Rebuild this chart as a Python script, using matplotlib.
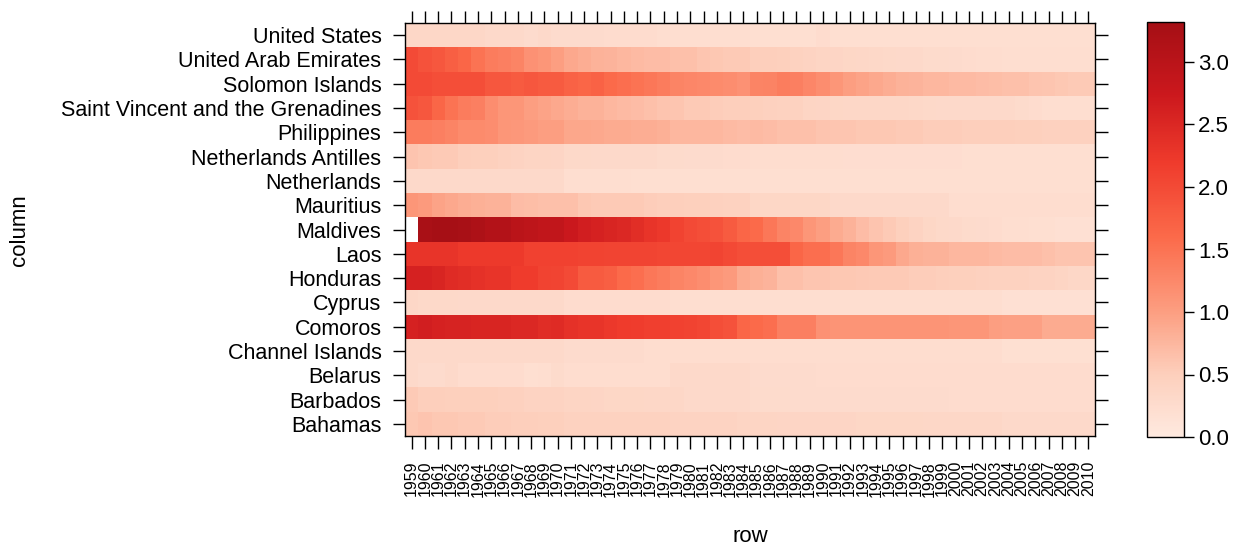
import numpy as np
import matplotlib
matplotlib.use("Agg")
import matplotlib.pyplot as plt
from matplotlib.colors import LinearSegmentedColormap

plt.rcParams['font.family'] = ['Liberation Sans', 'DejaVu Sans']

years = list(range(1959, 2011))

# countries, bottom to top as drawn
countries = ["Bahamas", "Barbados", "Belarus", "Channel Islands", "Comoros",
             "Cyprus", "Honduras", "Laos", "Maldives", "Mauritius",
             "Netherlands", "Netherlands Antilles", "Philippines",
             "Saint Vincent and the Grenadines", "Solomon Islands",
             "United Arab Emirates", "United States"]

# one row per country, 1959 .. 2010 (first value, then decades, then 2010)
bahamas = [0.58,
           0.62, 0.58, 0.58, 0.55, 0.55, 0.52, 0.52, 0.50, 0.50, 0.48,
           0.48, 0.45, 0.45, 0.45, 0.45, 0.45, 0.45, 0.45, 0.45, 0.42,
           0.42, 0.42, 0.42, 0.42, 0.40, 0.40, 0.40, 0.38, 0.38, 0.38,
           0.38, 0.38, 0.38, 0.36, 0.36, 0.36, 0.36, 0.36, 0.34, 0.34,
           0.34, 0.34, 0.34, 0.34, 0.30, 0.30, 0.30, 0.30, 0.30, 0.30,
           0.30]
barbados = [0.55,
            0.50, 0.50, 0.48, 0.48, 0.48, 0.48, 0.46, 0.46, 0.42, 0.42,
            0.42, 0.40, 0.40, 0.38, 0.36, 0.36, 0.36, 0.35, 0.35, 0.35,
            0.30, 0.30, 0.30, 0.30, 0.30, 0.28, 0.28, 0.28, 0.26, 0.26,
            0.26, 0.26, 0.26, 0.26, 0.26, 0.26, 0.26, 0.26, 0.26, 0.26,
            0.25, 0.25, 0.25, 0.25, 0.25, 0.25, 0.25, 0.25, 0.25, 0.25,
            0.25]
belarus = [0.30,
           0.26, 0.26, 0.30, 0.25, 0.25, 0.25, 0.25, 0.25, 0.20, 0.22,
           0.28, 0.24, 0.24, 0.24, 0.24, 0.24, 0.24, 0.24, 0.24, 0.30,
           0.30, 0.30, 0.30, 0.30, 0.30, 0.26, 0.26, 0.26, 0.26, 0.26,
           0.25, 0.25, 0.25, 0.25, 0.25, 0.25, 0.25, 0.25, 0.25, 0.25,
           0.25, 0.25, 0.25, 0.25, 0.25, 0.25, 0.25, 0.25, 0.25, 0.25,
           0.25]
channel_islands = [0.30,
                   0.30, 0.30, 0.30, 0.30, 0.30, 0.30, 0.30, 0.30, 0.30, 0.30,
                   0.30, 0.26, 0.26, 0.26, 0.26, 0.26, 0.26, 0.24, 0.24, 0.24,
                   0.24, 0.24, 0.24, 0.24, 0.24, 0.24, 0.24, 0.24, 0.24, 0.24,
                   0.24, 0.24, 0.24, 0.24, 0.24, 0.24, 0.24, 0.24, 0.24, 0.24,
                   0.24, 0.24, 0.24, 0.24, 0.19, 0.19, 0.19, 0.19, 0.19, 0.19,
                   0.19]
comoros = [2.60,
           2.65, 2.60, 2.58, 2.58, 2.55, 2.55, 2.55, 2.50, 2.50, 2.42,
           2.45, 2.35, 2.30, 2.30, 2.25, 2.20, 2.18, 2.15, 2.15, 2.12,
           2.10, 2.05, 1.95, 1.90, 1.65, 1.60, 1.55, 1.35, 1.35, 1.35,
           1.15, 1.12, 1.12, 1.12, 1.12, 1.12, 1.12, 1.12, 1.12, 1.12,
           1.10, 1.10, 1.10, 1.00, 0.98, 0.98, 0.98, 0.88, 0.88, 0.88,
           0.88]
cyprus = [0.35,
          0.32, 0.32, 0.32, 0.30, 0.30, 0.30, 0.30, 0.30, 0.30, 0.30,
          0.30, 0.25, 0.25, 0.25, 0.25, 0.25, 0.25, 0.25, 0.25, 0.22,
          0.22, 0.22, 0.22, 0.22, 0.22, 0.22, 0.22, 0.22, 0.22, 0.22,
          0.22, 0.22, 0.22, 0.22, 0.22, 0.22, 0.22, 0.22, 0.22, 0.22,
          0.22, 0.22, 0.22, 0.22, 0.18, 0.18, 0.18, 0.18, 0.18, 0.18,
          0.18]
honduras = [2.60,
            2.60, 2.55, 2.45, 2.40, 2.35, 2.30, 2.30, 2.20, 2.20, 2.10,
            2.08, 2.00, 1.80, 1.80, 1.75, 1.60, 1.55, 1.45, 1.40, 1.30,
            1.25, 1.20, 1.10, 1.05, 0.88, 0.82, 0.78, 0.66, 0.66, 0.60,
            0.60, 0.58, 0.58, 0.56, 0.55, 0.55, 0.55, 0.52, 0.52, 0.50,
            0.48, 0.48, 0.46, 0.45, 0.45, 0.45, 0.42, 0.42, 0.40, 0.35,
            0.35]
laos = [2.30,
        2.30, 2.30, 2.30, 2.22, 2.22, 2.22, 2.22, 2.22, 2.12, 2.12,
        2.12, 2.12, 2.10, 2.10, 2.08, 2.08, 2.08, 2.08, 2.05, 2.05,
        2.05, 2.05, 2.08, 2.02, 1.95, 1.95, 1.95, 1.95, 1.65, 1.55,
        1.55, 1.45, 1.30, 1.25, 1.10, 1.05, 0.90, 0.82, 0.80, 0.80,
        0.75, 0.75, 0.75, 0.72, 0.70, 0.70, 0.70, 0.65, 0.62, 0.62,
        0.62]
maldives = [np.nan,
            3.25, 3.30, 3.30, 3.28, 3.20, 3.10, 3.10, 3.00, 2.95, 2.90,
            2.90, 2.75, 2.65, 2.60, 2.55, 2.50, 2.40, 2.30, 2.25, 2.10,
            2.00, 1.95, 1.90, 1.80, 1.65, 1.60, 1.45, 1.30, 1.25, 1.10,
            1.00, 0.88, 0.80, 0.70, 0.62, 0.55, 0.48, 0.42, 0.36, 0.32,
            0.30, 0.28, 0.26, 0.25, 0.22, 0.22, 0.20, 0.20, 0.18, 0.18,
            0.18]
mauritius = [1.10,
             1.05, 0.95, 0.90, 0.85, 0.82, 0.80, 0.80, 0.70, 0.68, 0.65,
             0.65, 0.65, 0.58, 0.55, 0.55, 0.55, 0.55, 0.52, 0.50, 0.50,
             0.48, 0.48, 0.46, 0.45, 0.45, 0.36, 0.36, 0.36, 0.36, 0.36,
             0.36, 0.30, 0.30, 0.30, 0.30, 0.30, 0.30, 0.30, 0.30, 0.30,
             0.24, 0.24, 0.24, 0.24, 0.24, 0.24, 0.24, 0.24, 0.24, 0.24,
             0.24]
netherlands = [0.30,
               0.30, 0.30, 0.30, 0.30, 0.30, 0.30, 0.30, 0.30, 0.30, 0.30,
               0.30, 0.22, 0.22, 0.22, 0.22, 0.22, 0.20, 0.20, 0.20, 0.20,
               0.20, 0.20, 0.20, 0.20, 0.20, 0.20, 0.20, 0.20, 0.20, 0.20,
               0.20, 0.20, 0.20, 0.20, 0.20, 0.20, 0.20, 0.20, 0.20, 0.20,
               0.20, 0.20, 0.20, 0.20, 0.20, 0.20, 0.20, 0.20, 0.20, 0.20,
               0.20]
netherlands_antilles = [0.62,
                        0.58, 0.55, 0.55, 0.50, 0.48, 0.48, 0.45, 0.42, 0.40, 0.40,
                        0.38, 0.32, 0.32, 0.30, 0.30, 0.30, 0.30, 0.30, 0.28, 0.28,
                        0.26, 0.26, 0.26, 0.25, 0.25, 0.24, 0.24, 0.24, 0.24, 0.24,
                        0.24, 0.24, 0.23, 0.23, 0.23, 0.23, 0.23, 0.23, 0.23, 0.23,
                        0.23, 0.20, 0.20, 0.20, 0.20, 0.20, 0.20, 0.20, 0.20, 0.20,
                        0.20]
philippines = [1.40,
               1.40, 1.35, 1.30, 1.22, 1.22, 1.20, 1.10, 1.08, 1.05, 1.00,
               1.00, 0.92, 0.92, 0.90, 0.88, 0.88, 0.85, 0.85, 0.82, 0.75,
               0.75, 0.75, 0.75, 0.72, 0.70, 0.72, 0.70, 0.66, 0.66, 0.65,
               0.62, 0.60, 0.60, 0.58, 0.58, 0.58, 0.55, 0.55, 0.52, 0.52,
               0.52, 0.50, 0.50, 0.50, 0.50, 0.48, 0.48, 0.46, 0.46, 0.46,
               0.46]
saint_vincent = [1.90,
                 1.85, 1.65, 1.50, 1.40, 1.35, 1.20, 1.10, 1.10, 1.00, 0.95,
                 0.90, 0.85, 0.80, 0.80, 0.75, 0.72, 0.70, 0.65, 0.62, 0.60,
                 0.55, 0.55, 0.52, 0.50, 0.50, 0.48, 0.46, 0.45, 0.45, 0.40,
                 0.38, 0.36, 0.35, 0.35, 0.35, 0.34, 0.34, 0.33, 0.32, 0.30,
                 0.30, 0.30, 0.30, 0.30, 0.30, 0.28, 0.25, 0.22, 0.22, 0.22,
                 0.22]
solomon = [2.00,
           2.00, 1.95, 1.95, 1.95, 1.95, 1.85, 1.85, 1.80, 1.85, 1.80,
           1.80, 1.70, 1.65, 1.70, 1.60, 1.55, 1.50, 1.45, 1.40, 1.30,
           1.28, 1.25, 1.22, 1.20, 1.15, 1.30, 1.32, 1.38, 1.35, 1.28,
           1.20, 1.10, 1.00, 0.95, 0.90, 0.85, 0.80, 0.78, 0.75, 0.75,
           0.72, 0.72, 0.70, 0.68, 0.66, 0.65, 0.62, 0.60, 0.58, 0.55,
           0.55]
uae = [2.00,
       1.90, 1.85, 1.75, 1.65, 1.50, 1.40, 1.35, 1.30, 1.15, 1.10,
       1.00, 0.90, 0.85, 0.80, 0.78, 0.75, 0.72, 0.70, 0.70, 0.65,
       0.65, 0.60, 0.58, 0.55, 0.55, 0.50, 0.50, 0.48, 0.45, 0.42,
       0.40, 0.38, 0.36, 0.35, 0.33, 0.32, 0.30, 0.30, 0.28, 0.28,
       0.26, 0.25, 0.24, 0.24, 0.22, 0.22, 0.22, 0.22, 0.22, 0.22,
       0.22]
united_states = [0.35,
                 0.35, 0.35, 0.35, 0.35, 0.35, 0.30, 0.30, 0.30, 0.26, 0.30,
                 0.26, 0.26, 0.26, 0.26, 0.25, 0.25, 0.25, 0.25, 0.22, 0.22,
                 0.22, 0.22, 0.22, 0.22, 0.22, 0.20, 0.20, 0.20, 0.20, 0.20,
                 0.25, 0.20, 0.20, 0.20, 0.20, 0.20, 0.20, 0.20, 0.20, 0.20,
                 0.20, 0.20, 0.20, 0.20, 0.20, 0.20, 0.20, 0.20, 0.20, 0.20,
                 0.20]

z = np.array([bahamas, barbados, belarus, channel_islands, comoros, cyprus,
              honduras, laos, maldives, mauritius, netherlands,
              netherlands_antilles, philippines, saint_vincent, solomon,
              uae, united_states])
z = np.ma.masked_invalid(z)

vmax = 3.32
cmap = LinearSegmentedColormap.from_list(
    "reds", [(0.0, "#FEE9DF"), (0.5 / vmax, "#FDCFBC"), (1.0 / vmax, "#FC9E81"),
             (1.6 / vmax, "#FB6A4A"), (2.2 / vmax, "#EF3B2C"),
             (2.75 / vmax, "#CB181D"), (1.0, "#A50F15")])

W, H = 1244, 550
fig = plt.figure(figsize=(W / 100, H / 100), dpi=100)
ax = fig.add_axes([405 / W, 1 - 436 / H, 690 / W, 413 / H])
cax = fig.add_axes([1147 / W, 1 - 437 / H, 37 / W, 415 / H])

mesh = ax.pcolormesh(np.arange(len(years) + 1), np.arange(len(countries) + 1),
                     z, cmap=cmap, vmin=0, vmax=vmax)

ax.set_xlim(0, len(years))
ax.set_ylim(0, len(countries))
ax.set_xticks(np.arange(len(years)) + 0.5)
ax.set_xticklabels([str(y) for y in years], rotation=90, fontsize=11.5)
ax.set_yticks(np.arange(len(countries)) + 0.5)
ax.set_yticklabels(countries, fontsize=15.5)
ax.tick_params(direction='out', length=9, width=1, top=True, right=True,
               labeltop=False, labelright=False)
ax.tick_params(axis='y', pad=8)
ax.tick_params(axis='x', pad=9)
for s in ax.spines.values():
    s.set_linewidth(1)

fig.text(750 / W, 1 - 537 / H, "row", ha='center', va='center', fontsize=16)
fig.text(20 / W, 1 - 230 / H, "column", ha='center', va='center',
         rotation=90, fontsize=16)

cb = fig.colorbar(mesh, cax=cax)
cb.set_ticks([0, 0.5, 1.0, 1.5, 2.0, 2.5, 3.0])
cb.set_ticklabels(["0.0", "0.5", "1.0", "1.5", "2.0", "2.5", "3.0"])
cb.ax.tick_params(length=7, width=1, labelsize=16, pad=3)
cb.outline.set_linewidth(1)

fig.savefig("out.png", dpi=100)
